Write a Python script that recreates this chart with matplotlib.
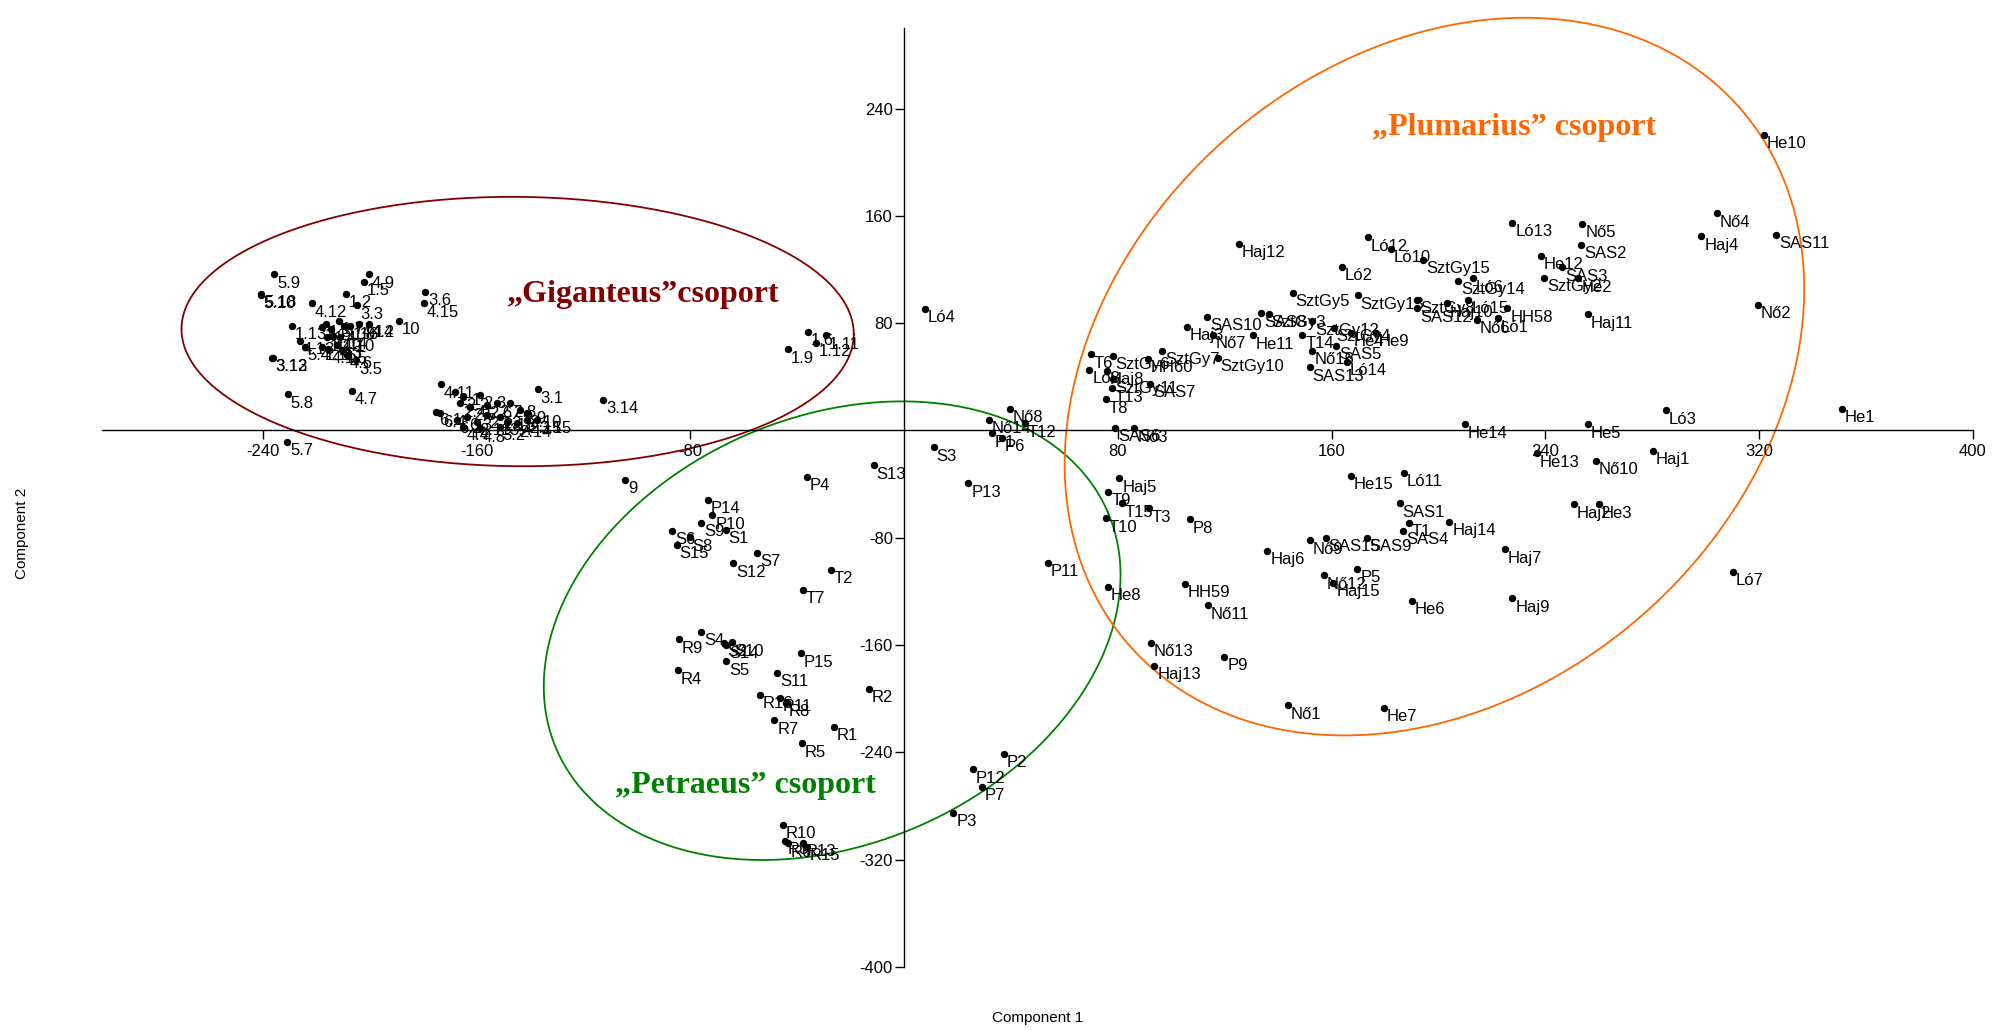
import numpy as np
import matplotlib.pyplot as plt

# Giganteus group
gig_labels = ["5.9", "5.10", "5.18", "4.9", "1.5", "1.2", "3.3", "3.6", "4.15", "10",
              "4.12", "1.13", "3.12", "3.13", "3.5", "4.7", "5.8", "5.7",
              "1.1", "1.3", "1.4", "1.7", "1.16", "1.8", "4.14", "1.10", "1.14", "4.10",
              "1.15", "4.1", "4.3", "4.5", "4.6", "4.13", "5.4", "4.2",
              "4.11", "3.1", "3.14", "6.1", "2.1", "2.2", "2.3", "2.4", "2.5", "2.6",
              "2.7", "2.8", "2.9", "2.10", "6.2", "6.3", "2.11", "2.12", "2.13", "3.4",
              "2.14", "2.15", "3.15", "4.4", "4.8", "3.2", "6.4",
              "1.9", "1.6", "1.11", "1.12", "9"]
gig_x = [-235.6, -240.8, -240.6, -200.2, -202.1, -208.8, -204.6, -179.1, -179.6, -188.9,
         -221.7, -228.9, -236.4, -236.2, -205.0, -206.7, -230.6, -230.8,
         -217.9, -216.3, -214.4, -211.4, -209.6, -207.3, -204.0, -215.8, -213.6, -211.1,
         -217.9, -215.4, -212.3, -210.4, -208.5, -226.0, -224.2, -200.1,
         -173.4, -137.1, -112.6, -175.1, -168.0, -164.9, -158.7, -166.2, -162.4, -156.2,
         -152.4, -147.5, -143.7, -141.2, -167.4, -163.7, -159.9, -156.2, -151.2, -148.7,
         -145.0, -141.2, -137.5, -164.9, -158.7, -151.2, -173.7,
         -43.6, -36.0, -29.3, -33.1, -104.4]
gig_y = [116.5, 101.3, 101.9, 116.5, 110.7, 101.8, 93.4, 103.3, 94.9, 81.7,
         94.9, 77.9, 54.3, 54.0, 52.3, 29.7, 27.0, -8.6,
         77.4, 79.4, 75.5, 81.9, 77.9, 77.9, 79.4, 69.5, 70.5, 69.5,
         62.5, 60.6, 63.8, 60.0, 56.3, 67.0, 62.5, 79.4,
         34.4, 30.7, 22.7, 14.0, 28.9, 25.2, 26.5, 20.3, 17.7, 19.0,
         20.3, 20.3, 15.3, 12.8, 7.8, 10.3, 6.6, 11.6, 10.3, 6.6,
         5.3, 7.8, 7.8, 2.8, 1.6, 2.8, 12.8,
         60.5, 73.6, 70.9, 65.3, -37.0]

# Petraeus group
pet_labels = ["P4", "S13", "P14", "P10", "S9", "S1", "S6", "S8", "S15", "S7", "S12",
              "T2", "T7", "S4", "R9", "S2", "S10", "S14", "S5", "P15", "R4", "S11",
              "R2", "R16", "R11", "R8", "R7", "R1", "R5", "P2", "P12", "P7", "P3",
              "R10", "R3", "R6", "R13", "R15", "S3", "P13", "P11",
              "Nő8", "Nő14", "T12", "P1", "P6"]
pet_x = [-36.4, -11.3, -73.4, -71.7, -75.9, -66.8, -86.8, -80.2, -85.1, -55.0, -64.0,
         -27.4, -37.7, -75.9, -84.1, -67.3, -64.4, -66.6, -66.5, -38.5, -84.5, -47.4,
         -13.0, -53.9, -46.4, -44.3, -48.5, -26.2, -38.3, 37.3, 25.7, 29.1, 18.5,
         -45.4, -44.5, -43.3, -37.9, -36.4, 11.1, 24.1, 53.9,
         39.7, 31.8, 45.3, 32.8, 36.6]
pet_y = [-34.4, -26.0, -51.8, -63.2, -69.0, -74.2, -74.9, -79.6, -85.2, -91.4, -99.0,
         -104.0, -118.7, -150.0, -155.7, -158.2, -158.0, -160.0, -172.1, -166.1, -178.8, -180.6,
         -192.5, -197.2, -199.3, -203.0, -216.1, -220.9, -233.3, -241.0, -252.7, -265.6, -285.0,
         -294.0, -306.0, -307.8, -307.4, -310.4, -12.4, -39.4, -98.6,
         16.0, 7.8, 5.4, -2.1, -5.4]

# Plumarius group
plu_labels = ["He8", "T13", "T8", "SAS6", "Nő3", "Haj5", "T9", "T15", "T3", "T10", "P8",
              "T6", "Ló8", "SztGy6", "Haj8", "SztGy11", "HH60", "SztGy7", "SztGy10", "SAS7",
              "Haj3", "SAS10", "Nő7", "He11", "SAS8", "SztGy3", "SztGy5", "T14", "Nő16",
              "SAS13", "SztGy12", "SztGy4", "He4", "He9", "SAS5", "Ló14", "Haj12", "Ló12",
              "Ló10", "SztGy15", "Ló2", "SztGy13", "SztGy8", "SAS12", "Haj10", "Ló15",
              "SztGy14", "Ló6", "Nő6", "Ló1", "HH58", "Ló13", "Nő5", "SAS2", "He12",
              "SAS3", "SztGy2", "He2", "Haj11", "He10", "Nő4", "Haj4", "SAS11", "Nő2",
              "He1", "Ló3", "He5", "He14", "Haj1", "He13", "Nő10", "Haj2", "He3",
              "Haj14", "Ló11", "He15", "SAS1", "T1", "SAS4", "SAS9", "SAS15", "Nő9",
              "Haj6", "Nő12", "P5", "Haj15", "He6", "Haj7", "Haj9", "Ló7", "HH59",
              "Nő11", "Nő13", "Haj13", "P9", "Nő1", "He7", "Ló4"]
plu_x = [76.3, 77.7, 75.6, 79.0, 86.2, 80.6, 76.5, 81.5, 91.7, 75.5, 107.1,
         69.9, 69.4, 78.1, 75.9, 78.1, 91.4, 96.7, 117.4, 92.1,
         106.0, 113.5, 115.5, 130.5, 133.7, 136.5, 145.5, 149.1, 152.8,
         151.9, 152.8, 160.9, 167.1, 176.6, 161.8, 165.6, 125.2, 173.5,
         182.3, 194.4, 163.8, 169.8, 192.1, 192.1, 203.3, 211.2,
         207.5, 212.8, 214.3, 222.4, 225.8, 227.7, 253.9, 253.4, 238.3,
         246.4, 239.6, 252.4, 255.8, 321.7, 304.1, 298.4, 326.4, 319.7,
         351.1, 285.0, 255.9, 209.8, 280.3, 237.0, 258.8, 250.8, 259.9,
         204.1, 187.2, 167.3, 185.5, 188.8, 186.8, 173.2, 157.9, 151.9,
         136.0, 157.2, 169.7, 160.7, 190.0, 224.9, 227.7, 310.3, 105.2,
         113.7, 92.4, 93.7, 119.9, 143.6, 179.6, 7.8]
plu_y = [-116.6, 31.5, 23.3, 2.1, 1.6, -35.6, -45.6, -54.4, -58.0, -65.5, -66.2,
         56.8, 45.1, 55.6, 44.6, 38.2, 53.3, 59.5, 54.3, 34.7,
         77.4, 84.9, 71.2, 71.0, 87.4, 86.9, 102.8, 71.2, 59.5,
         47.1, 81.4, 76.7, 72.7, 72.7, 63.3, 51.1, 139.1, 144.1,
         135.3, 127.1, 122.1, 100.7, 97.3, 91.1, 94.8, 97.3,
         111.5, 113.5, 82.4, 83.6, 91.1, 155.0, 154.0, 138.6, 130.3,
         121.6, 113.9, 113.5, 86.6, 220.5, 161.9, 144.8, 145.8, 93.7,
         16.0, 15.1, 4.6, 4.6, -15.2, -17.0, -22.7, -55.0, -55.0,
         -68.0, -31.5, -33.7, -54.3, -68.8, -74.7, -80.0, -80.0, -82.0,
         -89.6, -108.0, -103.3, -113.5, -126.9, -88.6, -125.1, -105.2, -114.5,
         -130.3, -158.2, -175.6, -168.7, -204.9, -206.7, 90.8]

# group outlines and names
grp_names = ["„Giganteus”csoport", "„Petraeus” csoport", "„Plumarius” csoport"]
grp_colors = ["#800000", "#008000", "#FF6600"]
grp_text_pos = [(-149.1, 101.3), (-108.2, -264.4), (175.2, 226.2)]
ell_center = [(-144.6, 73.8), (-26.9, -149.3), (198.5, 40.2)]
ell_axes = [(125.8, 50.4), (112.3, 80.0), (152.2, 118.4)]
ell_angle = [-0.5, 23.2, 41.5]

xticks = [-240, -160, -80, 80, 160, 240, 320, 400]
yticks = [240, 160, 80, -80, -160, -240, -320, -400]

fig = plt.figure(figsize=(19.92, 10.30), dpi=100)
ax = fig.add_axes([0.0514, 0.0613, 0.939, 0.9113])
ax.set_xlim(-300, 400)
ax.set_ylim(-400, 300)

for s in ["top", "right"]:
    ax.spines[s].set_visible(False)
ax.spines["left"].set_position(("data", 0))
ax.spines["bottom"].set_position(("data", 0))
for s in ["left", "bottom"]:
    ax.spines[s].set_linewidth(1.0)
ax.set_xticks(xticks)
ax.set_yticks(yticks)
ax.set_xticklabels([str(v) for v in xticks], family="Liberation Sans", fontsize=12)
ax.set_yticklabels([str(v) for v in yticks], family="Liberation Sans", fontsize=12)
ax.tick_params(direction="out", length=6.5, width=1.0)
ax.tick_params(axis="y", pad=1.5)
ax.tick_params(axis="x", pad=3.5)

# pixels per data unit, for drawing the tilted ellipses on screen
kx = 0.939 * 1992 / 700
ky = 0.9113 * 1030 / 700

for (cx, cy), (a, b), ang, col in zip(ell_center, ell_axes, ell_angle, grp_colors):
    t = np.linspace(0, 2 * np.pi, 400)
    th = np.deg2rad(ang)
    u, v = a * np.cos(t), b * np.sin(t)
    ex = cx + u * np.cos(th) - v * np.sin(th)
    ey = cy + (u * np.sin(th) + v * np.cos(th)) * kx / ky
    ax.plot(ex, ey, color=col, lw=1.3, zorder=1, clip_on=False)

for name, (tx, ty), col in zip(grp_names, grp_text_pos, grp_colors):
    ax.text(tx, ty, name, color=col, fontsize=23, fontweight="bold",
            family="Liberation Serif", ha="left", va="center")

for labs, xs, ys in [(gig_labels, gig_x, gig_y), (pet_labels, pet_x, pet_y),
                     (plu_labels, plu_x, plu_y)]:
    ax.plot(xs, ys, "o", color="black", ms=4.3, zorder=3)
    for lab, x, y in zip(labs, xs, ys):
        ax.annotate(lab, (x, y), xytext=(2, -1), textcoords="offset points",
                    ha="left", va="top", fontsize=12, family="Liberation Sans")

fig.text(0.521, 0.012, "Component 1", ha="center", va="center",
         fontsize=11, family="Liberation Sans")
fig.text(0.0108, 0.482, "Component 2", ha="center", va="center", rotation=90,
         fontsize=11, family="Liberation Sans")

fig.savefig("out.png", dpi=100)
